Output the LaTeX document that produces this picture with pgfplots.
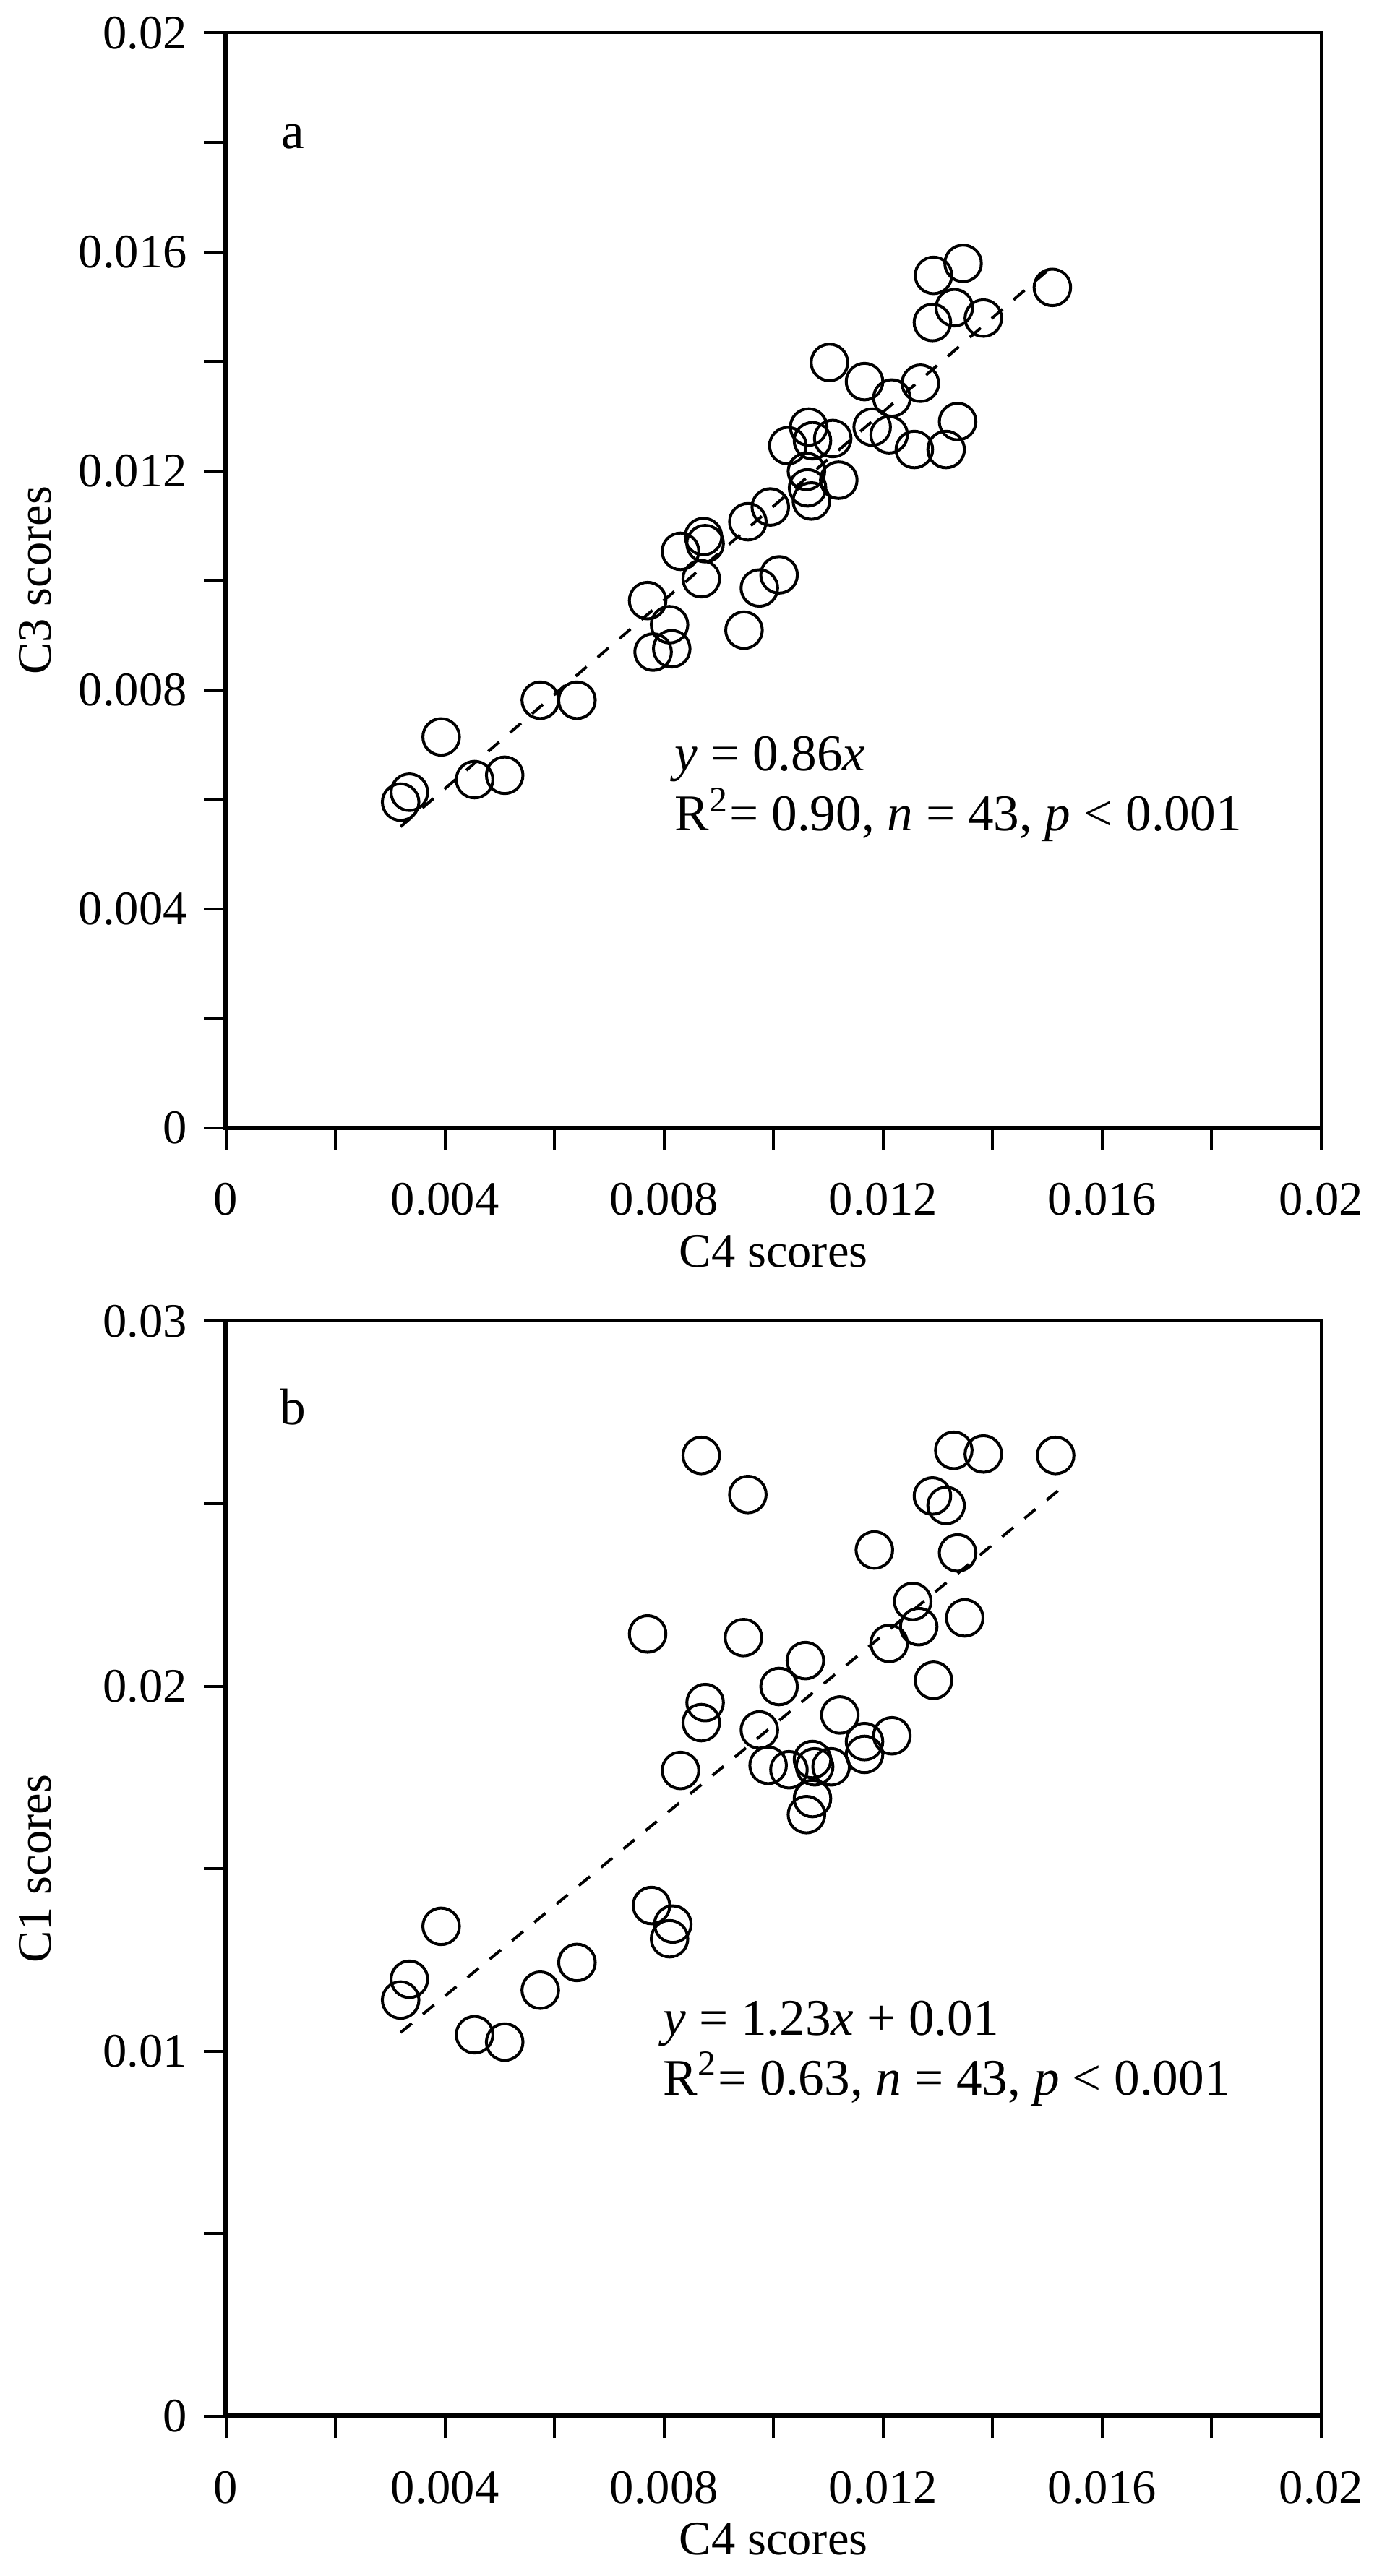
\documentclass[border=0pt]{standalone}
\usepackage{fontspec}
\setmainfont{Liberation Serif}
\usepackage{pgfplots}
\usepackage{pgfplotstable}
\pgfplotsset{compat=1.18}

% C4 scores vs C3 scores (panel a)
\pgfplotstableread{
x y
0.01346 0.01579
0.01292 0.01557
0.01509 0.01535
0.01330 0.01498
0.01290 0.01471
0.01383 0.01479
0.01102 0.01398
0.01166 0.01363
0.01268 0.01360
0.01216 0.01333
0.01180 0.01280
0.01211 0.01266
0.01336 0.01290
0.01257 0.01239
0.01315 0.01239
0.01064 0.01280
0.01071 0.01255
0.01026 0.01246
0.01108 0.01259
0.01119 0.01183
0.01060 0.01199
0.01062 0.01169
0.01069 0.01145
0.00994 0.01134
0.00953 0.01107
0.00872 0.01080
0.00875 0.01067
0.00830 0.01053
0.00868 0.01003
0.01010 0.01010
0.00974 0.00986
0.00770 0.00963
0.00810 0.00919
0.00946 0.00909
0.00780 0.00869
0.00814 0.00875
0.00574 0.00781
0.00641 0.00781
0.00393 0.00714
0.00454 0.00636
0.00509 0.00644
0.00335 0.00613
0.00319 0.00595
}\dataA

% C4 scores vs C1 scores (panel b)
\pgfplotstableread{
x y
0.00868 0.02632
0.00953 0.02525
0.01329 0.02646
0.01383 0.02636
0.01515 0.02632
0.01290 0.02521
0.01315 0.02495
0.01184 0.02373
0.01336 0.02365
0.01254 0.02232
0.01265 0.02163
0.01349 0.02187
0.01211 0.02117
0.00770 0.02143
0.00945 0.02133
0.01058 0.02070
0.01010 0.01999
0.01292 0.02016
0.00875 0.01955
0.00868 0.01900
0.00974 0.01880
0.01121 0.01921
0.01166 0.01848
0.01216 0.01864
0.01166 0.01813
0.00830 0.01769
0.00990 0.01783
0.01028 0.01771
0.01071 0.01799
0.01075 0.01779
0.01105 0.01779
0.01071 0.01692
0.01060 0.01648
0.00777 0.01399
0.00816 0.01348
0.00810 0.01308
0.00393 0.01342
0.00335 0.01197
0.00319 0.01140
0.00641 0.01243
0.00574 0.01167
0.00454 0.01045
0.00509 0.01025
}\dataB

\pgfplotsset{
  scores/.style={
    width=8cm, height=8cm, scale only axis,
    xmin=0, xmax=0.02,
    scaled ticks=false,
    xtick={0,0.004,0.008,0.012,0.016,0.02},
    xticklabels={0,0.004,0.008,0.012,0.016,0.02},
    minor xtick={0.002,0.006,0.01,0.014,0.018},
    tick align=outside, xtick pos=bottom, ytick pos=left,
    major tick length=0.16cm, minor tick length=0.16cm,
    tick style={black, line width=0.6pt},
    axis line style={line width=0.6pt},
    /pgf/number format/assume math mode=true,
    font=\fontsize{10}{12}\selectfont,
    xticklabel style={yshift=-0.12cm},
    xlabel={C4 scores},
    xlabel style={at={(axis description cs:0.5,-0.1125)}, anchor=center},
    ylabel style={at={(axis description cs:-0.174,0.5)}, anchor=center},
    clip=false,
  },
  pts/.style={only marks, mark=o, mark size=3.8pt, black, mark options={line width=0.6pt}},
  fit/.style={black, dashed, dash pattern=on 3pt off 3pt, line width=0.6pt},
}
\tikzset{note/.style={anchor=west, inner sep=0pt, font=\fontsize{10.7}{12.8}\selectfont}}

\begin{document}
\begin{tikzpicture}
\useasboundingbox (-1.65,-10.58) rectangle (8.44,8.24);

\begin{axis}[scores, at={(0,0)}, anchor=south west,
    ymin=0, ymax=0.02,
    ytick={0,0.004,0.008,0.012,0.016,0.02},
    yticklabels={0,0.004,0.008,0.012,0.016,0.02},
    minor ytick={0.002,0.006,0.01,0.014,0.018},
    ylabel={C3 scores}]
\addplot[pts] table[x=x, y=y] {\dataA};
\addplot[fit] coordinates {(0.00319,0.00550) (0.01512,0.01576)};
\draw[line width=1pt] (rel axis cs:0,1) -- (rel axis cs:0,0) -- (rel axis cs:1,0);
\node[anchor=center, font=\fontsize{10.7}{12.8}\selectfont] at (axis cs:0.00122,0.01810) {a};
\node[note] at (axis cs:0.00818,0.00673) {\textit{y} = 0.86\textit{x}};
\node[note] at (axis cs:0.00818,0.00572) {R\textsuperscript{2}= 0.90, \textit{n} = 43, \textit{p} < 0.001};
\end{axis}

\begin{axis}[scores, at={(0,-9.412cm)}, anchor=south west,
    ymin=0, ymax=0.03,
    ytick={0,0.01,0.02,0.03},
    yticklabels={0,0.01,0.02,0.03},
    minor ytick={0.005,0.015,0.025},
    ylabel={C1 scores}]
\addplot[pts] table[x=x, y=y] {\dataB};
\addplot[fit] coordinates {(0.00319,0.01051) (0.01519,0.02535)};
\draw[line width=1pt] (rel axis cs:0,1) -- (rel axis cs:0,0) -- (rel axis cs:1,0);
\node[anchor=center, font=\fontsize{10.7}{12.8}\selectfont] at (axis cs:0.00122,0.02765) {b};
\node[note] at (axis cs:0.00797,0.010755) {\textit{y} = 1.23\textit{x} + 0.01};
\node[note] at (axis cs:0.00797,0.009238) {R\textsuperscript{2}= 0.63, \textit{n} = 43, \textit{p} < 0.001};
\end{axis}
\end{tikzpicture}
\end{document}
